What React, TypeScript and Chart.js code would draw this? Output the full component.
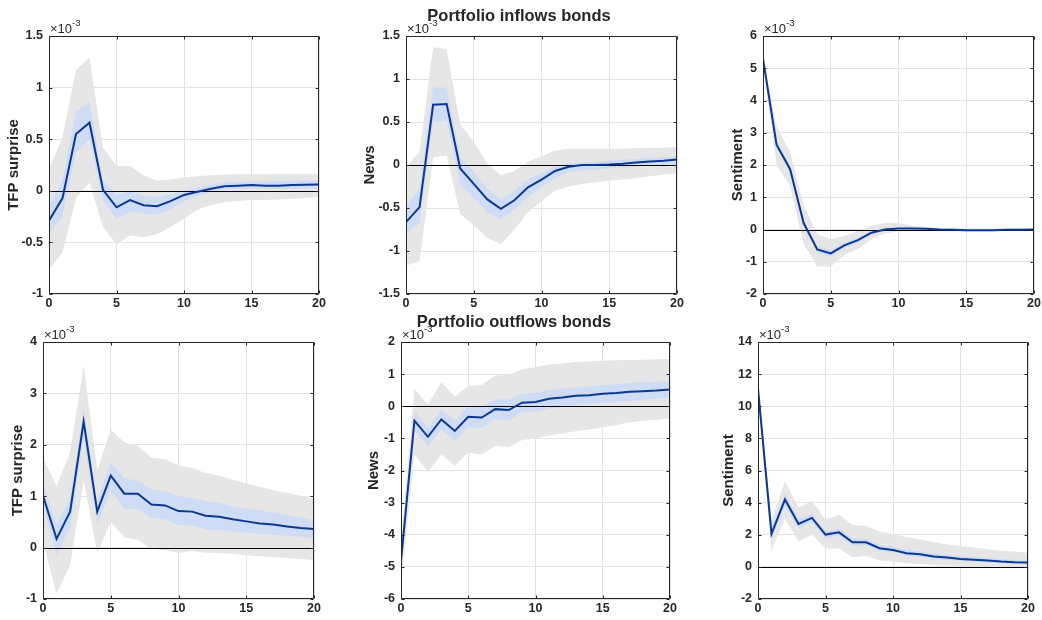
import React, { useEffect, useRef } from 'react';
import { Chart, registerables } from 'chart.js';

Chart.register(...registerables);

// ---------- data (values in units of 1e-3) ----------
const HORIZONS = [0, 1, 2, 3, 4, 5, 6, 7, 8, 9, 10, 11, 12, 13, 14, 15, 16, 17, 18, 19, 20];
const X_TICK_STEP = 5;
const ZERO_LEVEL = 0;

// Portfolio inflows bonds — TFP surprise
const IN_TFP_MED = [-0.29, -0.07, 0.55, 0.66, 0.01, -0.16, -0.09, -0.14, -0.15, -0.1, -0.04, -0.01, 0.02, 0.045, 0.05, 0.055, 0.05, 0.05, 0.055, 0.058, 0.06];
const IN_TFP_B_HI = [-0.15, 0.1, 0.77, 0.86, 0.1, -0.04, 0.0, -0.05, -0.06, -0.03, 0.0, 0.03, 0.06, 0.08, 0.085, 0.09, 0.09, 0.095, 0.095, 0.1, 0.1];
const IN_TFP_B_LO = [-0.42, -0.24, 0.37, 0.5, -0.1, -0.27, -0.2, -0.22, -0.23, -0.18, -0.1, -0.05, -0.01, 0.01, 0.02, 0.02, 0.02, 0.02, 0.02, 0.02, 0.02];
const IN_TFP_G_HI = [0.21, 0.52, 1.17, 1.29, 0.42, 0.24, 0.24, 0.15, 0.1, 0.11, 0.13, 0.14, 0.15, 0.155, 0.16, 0.16, 0.16, 0.165, 0.165, 0.165, 0.165];
const IN_TFP_G_LO = [-0.76, -0.6, -0.07, 0.08, -0.35, -0.52, -0.43, -0.45, -0.42, -0.35, -0.27, -0.18, -0.14, -0.11, -0.1, -0.09, -0.09, -0.085, -0.08, -0.07, -0.06];

// Portfolio inflows bonds — News
const IN_NEWS_MED = [-0.665, -0.49, 0.7, 0.71, -0.04, -0.22, -0.4, -0.51, -0.41, -0.26, -0.17, -0.07, -0.02, 0.0, 0.0, 0.005, 0.015, 0.03, 0.04, 0.05, 0.065];
const IN_NEWS_B_HI = [-0.48, -0.28, 0.9, 0.9, 0.1, -0.08, -0.27, -0.4, -0.3, -0.17, -0.09, -0.02, 0.02, 0.03, 0.04, 0.05, 0.06, 0.07, 0.08, 0.09, 0.1];
const IN_NEWS_B_LO = [-0.8, -0.67, 0.5, 0.52, -0.23, -0.38, -0.55, -0.63, -0.52, -0.37, -0.26, -0.15, -0.08, -0.06, -0.05, -0.04, -0.03, -0.02, -0.01, 0.0, 0.01];
const IN_NEWS_G_HI = [-0.02, 0.15, 1.37, 1.35, 0.47, 0.27, 0.02, -0.12, -0.07, 0.04, 0.1, 0.17, 0.19, 0.19, 0.19, 0.19, 0.19, 0.195, 0.2, 0.2, 0.21];
const IN_NEWS_G_LO = [-1.17, -1.12, 0.09, 0.11, -0.57, -0.7, -0.85, -0.92, -0.75, -0.55, -0.42, -0.3, -0.25, -0.22, -0.2, -0.18, -0.17, -0.15, -0.13, -0.11, -0.1];

// Portfolio inflows bonds — Sentiment
const IN_SENT_MED = [5.29, 2.63, 1.87, 0.2, -0.62, -0.74, -0.49, -0.33, -0.1, 0.0, 0.03, 0.03, 0.02, 0.0, -0.01, -0.02, -0.02, -0.02, -0.01, -0.01, 0.0];
const IN_SENT_B_HI = [5.38, 2.75, 1.98, 0.3, -0.52, -0.64, -0.41, -0.26, -0.04, 0.05, 0.07, 0.06, 0.05, 0.03, 0.02, 0.01, 0.01, 0.01, 0.01, 0.01, 0.02];
const IN_SENT_B_LO = [5.2, 2.52, 1.76, 0.1, -0.72, -0.84, -0.57, -0.4, -0.16, -0.05, -0.01, 0.0, -0.01, -0.03, -0.04, -0.05, -0.05, -0.05, -0.03, -0.03, -0.02];
const IN_SENT_G_HI = [5.45, 3.2, 2.4, 0.75, -0.15, -0.3, -0.2, -0.05, 0.12, 0.2, 0.2, 0.12, 0.08, 0.05, 0.04, 0.03, 0.03, 0.03, 0.03, 0.03, 0.03];
const IN_SENT_G_LO = [5.15, 2.0, 1.35, -0.45, -1.15, -1.15, -0.8, -0.6, -0.3, -0.12, -0.06, -0.03, -0.04, -0.05, -0.06, -0.06, -0.06, -0.06, -0.05, -0.05, -0.04];

// Portfolio outflows bonds — TFP surprise
const OUT_TFP_MED = [1.01, 0.17, 0.7, 2.45, 0.7, 1.4, 1.05, 1.05, 0.84, 0.82, 0.71, 0.7, 0.62, 0.6, 0.55, 0.51, 0.47, 0.45, 0.41, 0.38, 0.36];
const OUT_TFP_B_HI = [1.23, 0.45, 0.95, 2.7, 0.9, 1.65, 1.35, 1.3, 1.13, 1.1, 1.0, 0.97, 0.9, 0.87, 0.8, 0.76, 0.72, 0.68, 0.63, 0.58, 0.53];
const OUT_TFP_B_LO = [0.85, -0.15, 0.4, 2.15, 0.45, 1.1, 0.75, 0.75, 0.57, 0.55, 0.44, 0.43, 0.35, 0.34, 0.31, 0.29, 0.27, 0.25, 0.23, 0.21, 0.19];
const OUT_TFP_G_HI = [1.75, 1.2, 1.85, 3.55, 1.5, 2.3, 2.05, 1.98, 1.75, 1.72, 1.6, 1.55, 1.45, 1.4, 1.32, 1.25, 1.18, 1.12, 1.06, 1.01, 0.95];
const OUT_TFP_G_LO = [0.1, -0.9, -0.35, 1.3, -0.1, 0.5, 0.2, 0.15, -0.02, -0.05, -0.1, -0.07, -0.1, -0.1, -0.12, -0.15, -0.17, -0.19, -0.2, -0.22, -0.24];

// Portfolio outflows bonds — News
const OUT_NEWS_MED = [-4.8, -0.45, -0.95, -0.41, -0.77, -0.33, -0.35, -0.09, -0.12, 0.11, 0.13, 0.23, 0.27, 0.33, 0.34, 0.39, 0.41, 0.45, 0.47, 0.49, 0.52];
const OUT_NEWS_B_HI = [-4.6, -0.15, -0.65, -0.1, -0.45, 0.0, -0.02, 0.22, 0.2, 0.38, 0.42, 0.5, 0.55, 0.6, 0.62, 0.66, 0.68, 0.72, 0.74, 0.76, 0.78];
const OUT_NEWS_B_LO = [-5.0, -0.75, -1.25, -0.72, -1.1, -0.65, -0.68, -0.4, -0.45, -0.18, -0.17, -0.07, -0.03, 0.03, 0.06, 0.1, 0.13, 0.17, 0.2, 0.23, 0.27];
const OUT_NEWS_G_HI = [-4.3, 0.55, 0.05, 0.75, 0.3, 0.63, 0.67, 0.95, 0.98, 1.15, 1.22, 1.3, 1.33, 1.38, 1.4, 1.42, 1.43, 1.44, 1.45, 1.46, 1.47];
const OUT_NEWS_G_LO = [-5.6, -1.5, -2.05, -1.5, -1.85, -1.45, -1.5, -1.23, -1.28, -1.05, -1.0, -0.9, -0.85, -0.78, -0.72, -0.65, -0.58, -0.5, -0.45, -0.42, -0.38];

// Portfolio outflows bonds — Sentiment
const OUT_SENT_MED = [11.1, 2.05, 4.2, 2.67, 3.05, 2.01, 2.15, 1.53, 1.53, 1.16, 1.05, 0.85, 0.78, 0.64, 0.58, 0.49, 0.45, 0.39, 0.33, 0.29, 0.27];
const OUT_SENT_B_HI = [11.3, 2.4, 4.5, 2.95, 3.3, 2.2, 2.4, 1.75, 1.75, 1.35, 1.25, 1.05, 0.97, 0.83, 0.76, 0.67, 0.62, 0.56, 0.49, 0.45, 0.42];
const OUT_SENT_B_LO = [10.9, 1.8, 3.8, 2.4, 2.8, 1.8, 1.95, 1.35, 1.35, 1.0, 0.9, 0.7, 0.63, 0.5, 0.44, 0.36, 0.33, 0.27, 0.22, 0.19, 0.17];
const OUT_SENT_G_HI = [11.4, 3.0, 5.3, 3.7, 4.1, 2.95, 3.25, 2.6, 2.55, 2.2, 2.05, 1.85, 1.7, 1.55, 1.4, 1.3, 1.2, 1.1, 1.0, 0.95, 0.88];
const OUT_SENT_G_LO = [10.6, 1.0, 3.0, 1.6, 2.0, 1.15, 1.15, 0.6, 0.7, 0.4, 0.32, 0.22, 0.18, 0.12, 0.08, 0.05, 0.02, 0.0, -0.02, -0.04, -0.05];

// axis ranges [min, max, step]
const Y_IN_TFP = [-1, 1.5, 0.5];
const Y_IN_NEWS = [-1.5, 1.5, 0.5];
const Y_IN_SENT = [-2, 6, 1];
const Y_OUT_TFP = [-1, 4, 1];
const Y_OUT_NEWS = [-6, 2, 1];
const Y_OUT_SENT = [-2, 14, 2];

const Y_LABELS = ['TFP surprise', 'News', 'Sentiment'];
const ROW_TITLES = ['Portfolio inflows bonds', 'Portfolio outflows bonds'];
const EXPONENT_BASE = '\u00d710';
const EXPONENT_POW = '-3';

// ---------- styles ----------
const FONT = '"Liberation Sans", Arial, Helvetica, sans-serif';
const TEXT = '#262626';
const AXIS = '#262626';
const GRID = '#e3e3e3';
const GRAY_BAND = '#e6e6e6';
const BLUE_BAND = '#cedcf5';
const LINE = '#0b3891';

const PAD_L = 50;
const PAD_T = 36;
const PAD_R = 8;
const PAD_B = 22;
const TICK_LEN = 3;

type Panel = {
  med: number[]; bHi: number[]; bLo: number[]; gHi: number[]; gLo: number[];
  yRange: number[]; yLabel: string; title?: string;
  // layout
  x: number; y: number; w: number; h: number; ylabelPad: number;
};

const PANELS: Panel[] = [
  { med: IN_TFP_MED, bHi: IN_TFP_B_HI, bLo: IN_TFP_B_LO, gHi: IN_TFP_G_HI, gLo: IN_TFP_G_LO, yRange: Y_IN_TFP, yLabel: Y_LABELS[0],
    x: 49, y: 36, w: 271, h: 258, ylabelPad: 6 },
  { med: IN_NEWS_MED, bHi: IN_NEWS_B_HI, bLo: IN_NEWS_B_LO, gHi: IN_NEWS_G_HI, gLo: IN_NEWS_G_LO, yRange: Y_IN_NEWS, yLabel: Y_LABELS[1], title: ROW_TITLES[0],
    x: 406, y: 36, w: 272, h: 258, ylabelPad: 4.5 },
  { med: IN_SENT_MED, bHi: IN_SENT_B_HI, bLo: IN_SENT_B_LO, gHi: IN_SENT_G_HI, gLo: IN_SENT_G_LO, yRange: Y_IN_SENT, yLabel: Y_LABELS[2],
    x: 763, y: 36, w: 272, h: 258, ylabelPad: 15.5 },
  { med: OUT_TFP_MED, bHi: OUT_TFP_B_HI, bLo: OUT_TFP_B_LO, gHi: OUT_TFP_G_HI, gLo: OUT_TFP_G_LO, yRange: Y_OUT_TFP, yLabel: Y_LABELS[0],
    x: 43, y: 342, w: 272, h: 257, ylabelPad: 16 },
  { med: OUT_NEWS_MED, bHi: OUT_NEWS_B_HI, bLo: OUT_NEWS_B_LO, gHi: OUT_NEWS_G_HI, gLo: OUT_NEWS_G_LO, yRange: Y_OUT_NEWS, yLabel: Y_LABELS[1], title: ROW_TITLES[1],
    x: 401, y: 342, w: 270, h: 257, ylabelPad: 14 },
  { med: OUT_SENT_MED, bHi: OUT_SENT_B_HI, bLo: OUT_SENT_B_LO, gHi: OUT_SENT_G_HI, gLo: OUT_SENT_G_LO, yRange: Y_OUT_SENT, yLabel: Y_LABELS[2],
    x: 758, y: 342, w: 271, h: 257, ylabelPad: 12 },
];

const TITLE_OFFSET = 113; // title centre relative to plot-area left edge

const pts = (ys: number[]) => ys.map((y, i) => ({ x: HORIZONS[i], y }));

const fmt = (v: any) => String(Math.round(Number(v) * 100) / 100);

const decorPlugin = {
  id: 'matlabDecor',
  // zero reference line, drawn just before the median line (dataset 0)
  beforeDatasetDraw(chart: any, args: any) {
    if (args.index !== 0) return;
    const { ctx, chartArea: a, scales } = chart;
    const py = Math.round(scales.y.getPixelForValue(ZERO_LEVEL)) + 0.5;
    ctx.save();
    ctx.strokeStyle = '#000000';
    ctx.lineWidth = 1;
    ctx.beginPath();
    ctx.moveTo(a.left, py);
    ctx.lineTo(a.right, py);
    ctx.stroke();
    ctx.restore();
  },
  afterDraw(chart: any, _args: any, opts: any) {
    const { ctx, chartArea: a, scales } = chart;
    const L = Math.round(a.left) + 0.5;
    const R = Math.round(a.right) - 0.5;
    const T = Math.round(a.top) + 0.5;
    const B = Math.round(a.bottom) - 0.5;
    ctx.save();
    ctx.strokeStyle = AXIS;
    ctx.lineWidth = 1;
    ctx.beginPath();
    ctx.rect(L, T, R - L, B - T);
    scales.x.ticks.forEach((t: any) => {
      const px = Math.round(scales.x.getPixelForValue(t.value)) + 0.5;
      ctx.moveTo(px, B); ctx.lineTo(px, B - TICK_LEN);
      ctx.moveTo(px, T); ctx.lineTo(px, T + TICK_LEN);
    });
    scales.y.ticks.forEach((t: any) => {
      const py = Math.round(scales.y.getPixelForValue(t.value)) + 0.5;
      ctx.moveTo(L, py); ctx.lineTo(L + TICK_LEN, py);
      ctx.moveTo(R, py); ctx.lineTo(R - TICK_LEN, py);
    });
    ctx.stroke();

    // exponent label
    ctx.fillStyle = TEXT;
    ctx.textAlign = 'left';
    ctx.textBaseline = 'alphabetic';
    ctx.font = `13px ${FONT}`;
    ctx.fillText(EXPONENT_BASE, a.left + 1, a.top - 3);
    const w = ctx.measureText(EXPONENT_BASE).width;
    ctx.font = `9.5px ${FONT}`;
    ctx.fillText(EXPONENT_POW, a.left + 1 + w, a.top - 10);

    if (opts && opts.title) {
      ctx.font = `bold 16.5px ${FONT}`;
      ctx.textAlign = 'center';
      ctx.fillText(opts.title, a.left + TITLE_OFFSET, a.top - 15);
    }
    ctx.restore();
  },
};

function PanelChart({ p }: { p: Panel }) {
  const ref = useRef<HTMLCanvasElement>(null);
  const cw = p.w + PAD_L + PAD_R;
  const ch = p.h + PAD_T + PAD_B;
  useEffect(() => {
    if (!ref.current) return;
    const band = (data: number[], color: string, fill: any, order: number) => ({
      data: pts(data),
      borderWidth: 0,
      borderColor: 'rgba(0,0,0,0)',
      backgroundColor: color,
      pointRadius: 0,
      fill,
      order,
      tension: 0,
    });
    const chart = new Chart(ref.current, {
      type: 'line',
      data: {
        datasets: [
          { data: pts(p.med), borderColor: LINE, borderWidth: 2, pointRadius: 0, fill: false, order: 0, tension: 0 },
          band(p.bHi, BLUE_BAND, '+1', 2),
          band(p.bLo, BLUE_BAND, false, 2),
          band(p.gHi, GRAY_BAND, '+1', 3),
          band(p.gLo, GRAY_BAND, false, 3),
        ] as any,
      },
      options: {
        animation: false,
        responsive: false,
        devicePixelRatio: 1,
        events: [],
        layout: { padding: { top: PAD_T, right: PAD_R, left: 0, bottom: 0 } },
        plugins: {
          legend: { display: false },
          tooltip: { enabled: false },
          matlabDecor: { title: p.title },
        } as any,
        scales: {
          x: {
            type: 'linear',
            min: HORIZONS[0],
            max: HORIZONS[HORIZONS.length - 1],
            grid: { color: GRID, drawTicks: false, lineWidth: 1 },
            border: { display: false },
            ticks: {
              stepSize: X_TICK_STEP,
              autoSkip: false,
              maxRotation: 0,
              padding: 2,
              color: TEXT,
              font: { family: FONT, size: 12.5, weight: 'bold' },
              callback: fmt,
            },
            afterFit: (s: any) => { s.height = PAD_B; },
          },
          y: {
            type: 'linear',
            min: p.yRange[0],
            max: p.yRange[1],
            grid: { color: GRID, drawTicks: false, lineWidth: 1 },
            border: { display: false },
            ticks: {
              stepSize: p.yRange[2],
              autoSkip: false,
              padding: 6,
              color: TEXT,
              font: { family: FONT, size: 12.5, weight: 'bold' },
              callback: fmt,
            },
            title: {
              display: true,
              text: p.yLabel,
              color: TEXT,
              font: { family: FONT, size: 15, weight: 'bold' },
              padding: { top: p.ylabelPad, bottom: 0 },
            },
            afterFit: (s: any) => { s.width = PAD_L; },
          },
        } as any,
      },
      plugins: [decorPlugin as any],
    });
    return () => chart.destroy();
  }, []);
  return (
    <canvas
      ref={ref}
      width={cw}
      height={ch}
      style={{ position: 'absolute', left: p.x - PAD_L, top: p.y - PAD_T, width: cw, height: ch }}
    />
  );
}

export default function App() {
  return (
    <div style={{ position: 'absolute', left: 0, top: 0, width: 1042, height: 620, overflow: 'hidden', background: '#ffffff' }}>
      {PANELS.map((p, i) => (
        <PanelChart key={i} p={p} />
      ))}
    </div>
  );
}
